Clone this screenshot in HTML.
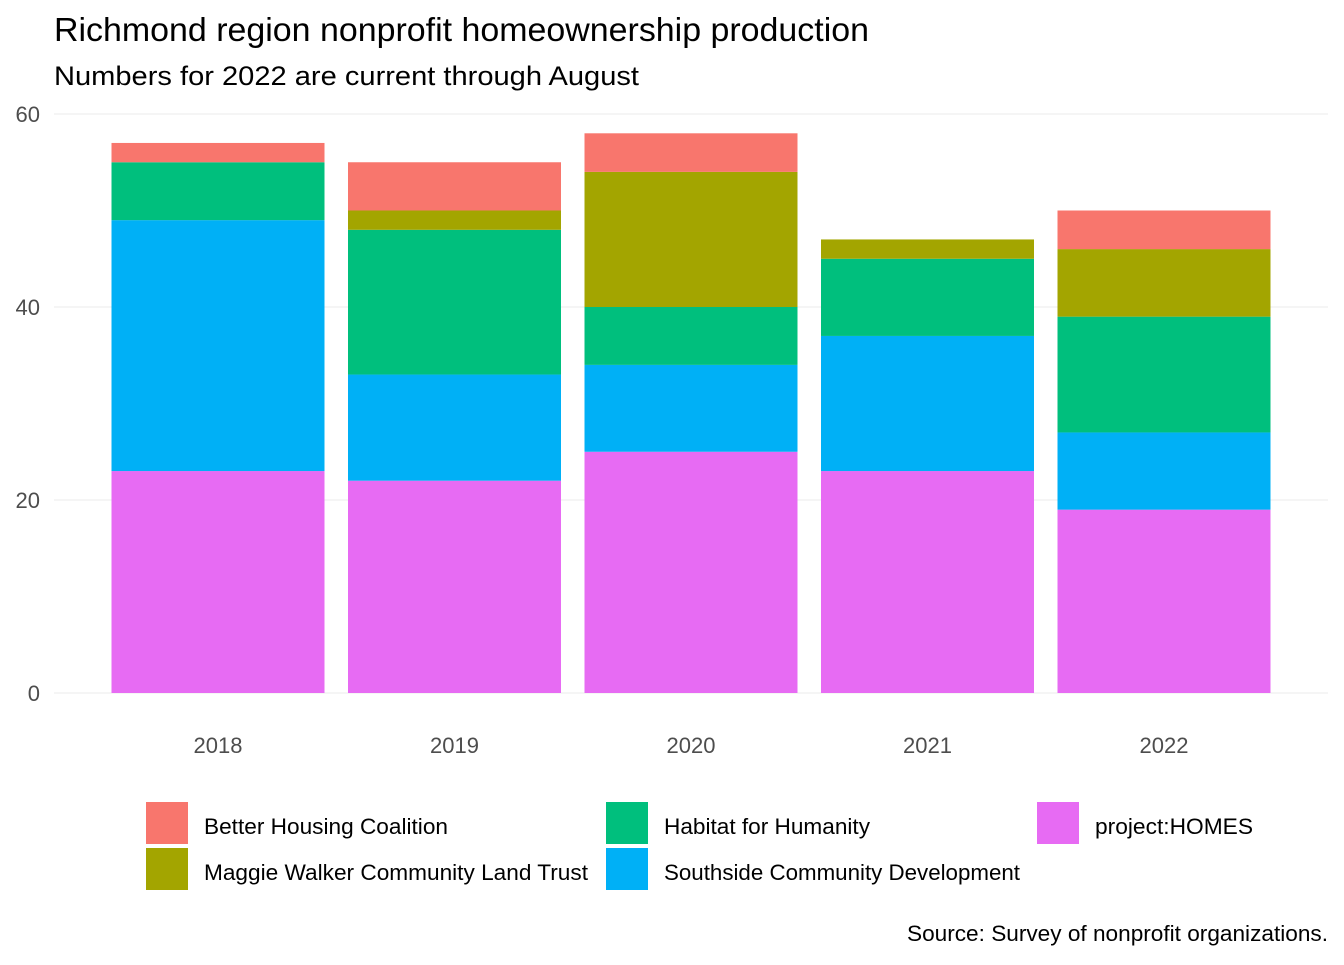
<!DOCTYPE html>
<html><head><meta charset="utf-8"><style>
body{margin:0;background:#fff;font-family:"Liberation Sans",Arial,sans-serif}
svg text{font-family:"Liberation Sans",Arial,sans-serif}
</style></head><body>
<svg id="chart" width="1344" height="960" xmlns="http://www.w3.org/2000/svg">
<text x="54" y="41" font-size="33" textLength="815" lengthAdjust="spacingAndGlyphs" fill="#000">Richmond region nonprofit homeownership production</text>
<text x="54" y="85" font-size="27" textLength="585" lengthAdjust="spacingAndGlyphs" fill="#000">Numbers for 2022 are current through August</text>
<g id="grid"></g>
<g id="bars"></g>
<g id="axes"></g>
<g id="legend"></g>
<text x="1328" y="941" font-size="22" text-anchor="end" textLength="421" lengthAdjust="spacingAndGlyphs" fill="#000">Source: Survey of nonprofit organizations.</text>
</svg>
<script>
const years = ["2018","2019","2020","2021","2022"];
const projectHomes = [23,22,25,23,19];
const southside = [26,11,9,14,8];
const habitat = [6,15,6,8,12];
const maggie = [0,2,14,2,7];
const betterHousing = [2,5,4,0,4];
const yTicks = [0,20,40,60];
const seriesNames = ["project:HOMES","Southside Community Development","Habitat for Humanity","Maggie Walker Community Land Trust","Better Housing Coalition"];
const seriesColors = ["#E76BF3","#00B0F6","#00BF7D","#A3A500","#F8766D"];
const seriesData = [projectHomes,southside,habitat,maggie,betterHousing];
const legendWidths = [158,356,206,384,244];

const NS="http://www.w3.org/2000/svg";
const y0=693, pxPerUnit=579/60;
const y=v=>y0-v*pxPerUnit;
const xCenter=i=>218+i*236.5;
const barW=213;
function mk(tag,attrs,parent){const e=document.createElementNS(NS,tag);for(const k in attrs)e.setAttribute(k,attrs[k]);parent.appendChild(e);return e;}
const grid=document.getElementById('grid'),bars=document.getElementById('bars'),axes=document.getElementById('axes'),legend=document.getElementById('legend');
yTicks.forEach(t=>{
  const l=mk('line',{x1:54,x2:1328,y1:y(t),y2:y(t),stroke:'#ebebeb','stroke-width':1},grid);
  
  
  const tx=mk('text',{x:40,y:y(t)+8,'font-size':22,'text-anchor':'end',fill:'#4d4d4d'},axes);
  tx.textContent=t;
  
  
});
years.forEach((yr,i)=>{
  let cum=0;
  seriesData.forEach((s,k)=>{
    const v=s[i]; if(!v) return;
    const r=mk('rect',{x:xCenter(i)-barW/2,y:y(cum+v),width:barW,height:v*pxPerUnit,fill:seriesColors[k]},bars);
    
    
    cum+=v;
  });
  const tx=mk('text',{x:xCenter(i),y:753,'font-size':22,'text-anchor':'middle',fill:'#4d4d4d'},axes);
  tx.textContent=yr;
  
  
});
const legendItems=[[4,146,802],[2,606,802],[0,1037,802],[3,146,848],[1,606,848]];
legendItems.forEach(([k,lx,ly])=>{
  const r=mk('rect',{x:lx,y:ly,width:42,height:42,fill:seriesColors[k]},legend);
  
  
  const t=mk('text',{x:lx+58,y:ly+32,'font-size':22,fill:'#000',textLength:legendWidths[k],lengthAdjust:'spacingAndGlyphs'},legend);
  t.textContent=seriesNames[k];
  
  
});
</script>
</body></html>
